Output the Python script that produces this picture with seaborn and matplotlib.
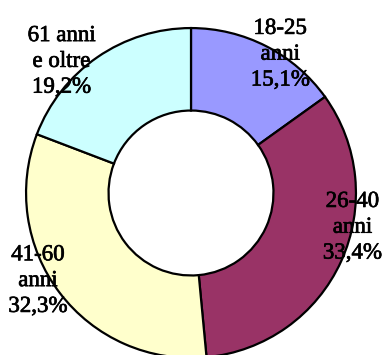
import matplotlib
matplotlib.use("Agg")
import matplotlib.pyplot as plt
import matplotlib.patheffects as pe
import seaborn as sns
import numpy as np

# Age groups and their shares (%)
categories = ["18-25\nanni", "26-40\nanni", "41-60\nanni", "61 anni\ne oltre"]
shares = [15.1, 33.4, 32.3, 19.2]
share_labels = ["15,1%", "33,4%", "32,3%", "19,2%"]
colors = ["#9999FF", "#993366", "#FFFFCC", "#CCFFFF"]

# Label placement: (radius, angle offset in degrees from the wedge midpoint)
label_radius = [1.0, 1.0, 1.07, 1.12]
label_shift = [5.5, -12.5, 7.5, -10.0]

sns.set_theme(style="white")
plt.rcParams["font.family"] = ["Liberation Serif"]

fig = plt.figure(figsize=(3.82, 3.55), dpi=100)
ax = fig.add_axes([0, 0, 1, 1])
ax.set_axis_off()

wedges, _ = ax.pie(
    shares,
    colors=colors,
    startangle=90,
    counterclock=False,
    radius=1.0,
    wedgeprops=dict(width=0.5, edgecolor="black", linewidth=1.6),
)

total = sum(shares)
cum = 0.0
for i, (cat, val, txt) in enumerate(zip(categories, shares, share_labels)):
    mid = cum + val / 2
    cum += val
    # angle measured clockwise from the top
    theta = np.deg2rad(mid / total * 360 + label_shift[i])
    x = label_radius[i] * np.sin(theta)
    y = label_radius[i] * np.cos(theta)
    t = ax.text(x, y, f"{cat}\n{txt}", ha="center", va="center",
                fontsize=16.5, color="black", linespacing=1.3)
    # slightly heavier strokes for the labels
    t.set_path_effects([pe.Stroke(linewidth=0.5, foreground="black"), pe.Normal()])

ax.set_xlim(-1.158, 1.158)
ax.set_ylim(-0.982, 1.170)

fig.savefig("out.png", dpi=100)
